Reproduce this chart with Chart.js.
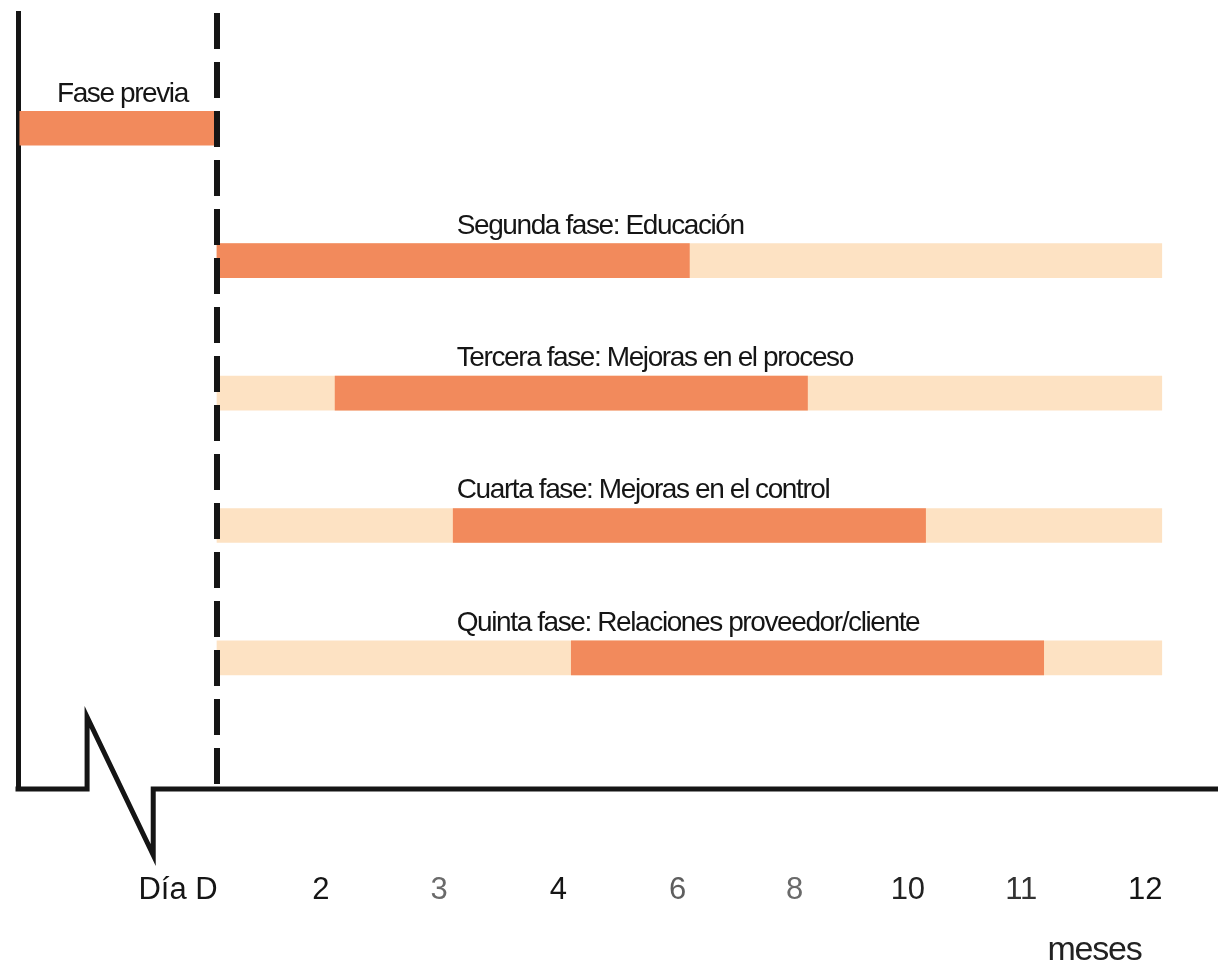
<!DOCTYPE html>
<html lang="es">
<head>
<meta charset="utf-8">
<title>Fases de implantación</title>
<script src="https://cdn.jsdelivr.net/npm/chart.js@4.4.1/dist/chart.umd.min.js"></script>
<style>
  html, body { margin: 0; padding: 0; background: #ffffff; }
  canvas { display: block; }
</style>
</head>
<body>
<canvas id="plan" width="1218" height="968"></canvas>
<script>
// Phases, one row each, top to bottom
const phases = [
  'Fase previa',
  'Segunda fase: Educación',
  'Tercera fase: Mejoras en el proceso',
  'Cuarta fase: Mejoras en el control',
  'Quinta fase: Relaciones proveedor/cliente'
];
// Active period of each phase, in time slots counted from day D (= 0)
const activeStart = [-1.67, 0, 1, 2, 3];
const activeEnd   = [0, 4, 5, 6, 7];
// Whole programme window drawn behind phases 2 to 5
const windowStart = [null, 0, 0, 0, 0];
const windowEnd   = [null, 8, 8, 8, 8];
// Time axis: where each month label sits and what it reads
const tickValues = [-0.33, 0.88, 1.88, 2.89, 3.9, 4.89, 5.85, 6.81, 7.86];
const tickLabels = ['Día D', '2', '3', '4', '6', '8', '10', '11', '12'];
const axisTitle = 'meses';

// Styling
const DARK = '#F28A5C';
const LIGHT = '#FDE2C3';
const INK = '#151515';
const tickColors = ['#151515', '#151515', '#6a6a6a', '#151515', '#5e5e5e', '#6a6a6a', '#222222', '#333333', '#151515'];
const AXIS_BAND = 179; // height of the time-axis band under the plot

const activeData = phases.map((p, i) => ({ y: i, x: [activeStart[i], activeEnd[i]] }));
const windowData = phases
  .map((p, i) => (windowStart[i] === null ? null : { y: i, x: [windowStart[i], windowEnd[i]] }))
  .filter(d => d !== null);

// Dashed day-D marker, broken time axis, phase captions and axis title
const overlay = {
  id: 'overlay',
  afterDatasetsDraw(chart) {
    const { ctx, chartArea: a, scales: { x } } = chart;
    ctx.save();

    // day D marker
    const xd = x.getPixelForValue(0);
    ctx.strokeStyle = INK;
    ctx.lineWidth = 6;
    ctx.setLineDash([36, 13]);
    ctx.beginPath();
    ctx.moveTo(xd, a.top);
    ctx.lineTo(xd, a.bottom - 2);
    ctx.stroke();
    ctx.setLineDash([]);

    // time axis with a break mark before day D
    const b0 = x.getPixelForValue(-1.1);
    const b1 = x.getPixelForValue(-0.54);
    const yb = a.bottom;
    ctx.lineWidth = 5;
    ctx.beginPath();
    ctx.moveTo(a.left - 2.5, yb);
    ctx.lineTo(b0, yb);
    ctx.lineTo(b0, yb - 72);
    ctx.lineTo(b1, yb + 66);
    ctx.lineTo(b1, yb);
    ctx.lineTo(a.right, yb);
    ctx.stroke();

    // phase captions above their bars
    ctx.fillStyle = INK;
    ctx.font = '28px "Liberation Sans", Arial, sans-serif';
    ctx.letterSpacing = '-1.4px';
    ctx.textBaseline = 'alphabetic';
    const bars = chart.getDatasetMeta(0).data;
    bars.forEach((bar, i) => {
      const top = bar.y - bar.height / 2;
      if (i === 0) {
        ctx.textAlign = 'center';
        ctx.fillText(phases[i], (bar.x + bar.base) / 2 + 4, top - 9);
      } else {
        ctx.textAlign = 'left';
        ctx.fillText(phases[i], x.getPixelForValue(2.03), top - 10);
      }
    });

    // axis title
    ctx.font = '34px "Liberation Sans", Arial, sans-serif';
    ctx.letterSpacing = '-1.2px';
    ctx.textAlign = 'center';
    ctx.fillStyle = '#222222';
    ctx.fillText(axisTitle, x.getPixelForValue(7.43), yb + 171);
    ctx.restore();
  }
};

new Chart(document.getElementById('plan'), {
  type: 'bar',
  data: {
    datasets: [
      {
        label: 'Fase activa',
        data: activeData,
        backgroundColor: DARK,
        borderWidth: 0,
        barThickness: 34,
        grouped: false,
        order: 0
      },
      {
        label: 'Programa',
        data: windowData,
        backgroundColor: LIGHT,
        borderWidth: 0,
        barThickness: 34,
        grouped: false,
        order: 1
      }
    ]
  },
  options: {
    indexAxis: 'y',
    responsive: false,
    animation: false,
    devicePixelRatio: 1,
    layout: { padding: { left: 18, right: 0, top: 13, bottom: 0 } },
    plugins: {
      legend: { display: false },
      tooltip: { enabled: false }
    },
    scales: {
      x: {
        type: 'linear',
        min: -1.685,
        max: 8.476,
        bounds: 'data',
        grid: { display: false, drawTicks: false },
        border: { display: false },
        afterBuildTicks: (scale) => { scale.ticks = tickValues.map(v => ({ value: v })); },
        afterFit: (scale) => {
          scale.height = AXIS_BAND;
          scale.paddingLeft = 0;
          scale.paddingRight = 0;
        },
        ticks: {
          autoSkip: false,
          maxRotation: 0,
          minRotation: 0,
          padding: 83,
          color: (c) => tickColors[c.index],
          font: { family: '"Liberation Sans", Arial, sans-serif', size: 31 },
          callback: (v, i) => tickLabels[i]
        }
      },
      y: {
        type: 'linear',
        reverse: true,
        offset: false,
        min: -0.87,
        max: 4.99,
        bounds: 'data',
        grid: { display: false, drawTicks: false, offset: false },
        border: { display: true, color: INK, width: 5 },
        ticks: { display: false }
      }
    }
  },
  plugins: [overlay]
});
</script>
</body>
</html>
